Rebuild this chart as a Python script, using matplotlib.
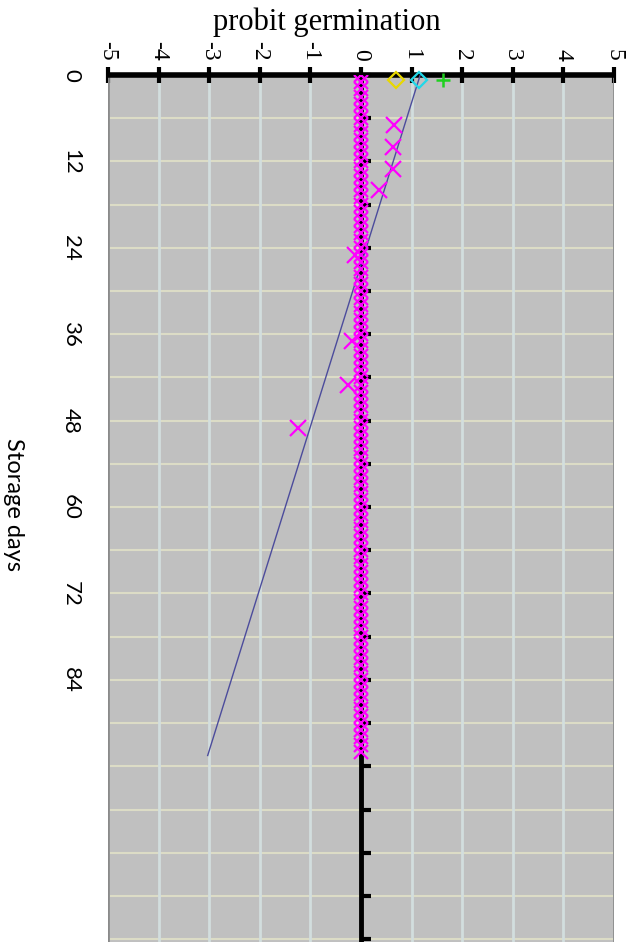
import matplotlib
matplotlib.use("Agg")
import matplotlib.pyplot as plt

# storage days (daily readings) that sit on probit 0
zero_days = list(range(0, 95))
zero_probit = [0.0] * len(zero_days)

# days with a non-zero probit germination
pos_days = [7, 10, 13, 16, 25, 37, 43, 49]
pos_probit = [0.65, 0.63, 0.64, 0.36, -0.12, -0.18, -0.25, -1.25]

# day-0 readings of the other series
yellow_probit = [0.69]
cyan_probit = [1.15]
green_probit = [1.63]
start_day = [0.7]

# fitted trend line (end points)
trend_days = [0, 94.5]
trend_probit = [1.17, -3.03]

probit_ticks = [-5, -4, -3, -2, -1, 0, 1, 2, 3, 4, 5]
day_labels = [0, 12, 24, 36, 48, 60, 72, 84]
day_minor = [0, 6, 12, 18, 24, 30, 36, 42, 48, 54, 60, 66, 72, 78, 84, 90, 96, 102, 108, 114, 120]

fig = plt.figure(figsize=(6.35, 9.42), dpi=100)
ax = fig.add_axes([108 / 635, 0, 506 / 635, 867 / 942])
ax.set_facecolor("#c0c0c0")
ax.set_xlim(-5, 5)
ax.set_ylim(120.4, 0)

# grid
for d in day_minor[1:]:
    ax.axhline(d, color="#dcdcc6", lw=1.5, zorder=1)
for p in probit_ticks:
    ax.axvline(p, color="#d2dede", lw=2, zorder=1)
ax.axvline(-5, color="#8a8a8a", lw=2, zorder=2)
ax.axvline(5, color="#8a8a8a", lw=2, zorder=2)

# top axis (probit)
ax.xaxis.tick_top()
ax.set_xticks(probit_ticks)
ax.set_xticklabels([str(t) for t in probit_ticks], family="Liberation Serif", fontsize=17)
ax.tick_params(axis="x", direction="inout", length=12, width=3, pad=4, labelrotation=-90)
ax.spines["top"].set_linewidth(4)
ax.spines["top"].set_capstyle("butt")
ax.spines["bottom"].set_visible(False)
ax.spines["right"].set_visible(False)

# zero line carries the day ticks
ax.spines["left"].set_position(("data", 0))
ax.spines["left"].set_linewidth(3.5)
ax.spines["left"].set_zorder(2.5)
ax.set_yticks(day_minor)
ax.set_yticklabels([])
ax.tick_params(axis="y", direction="in", length=7, width=3)

sec = ax.secondary_yaxis(-0.073)
sec.set_yticks(day_labels)
sec.set_yticklabels([str(d) for d in day_labels], family="Lato", fontsize=16,
                    rotation=-90, va="center", ha="center")
sec.tick_params(length=0, pad=0)
sec.spines["left"].set_visible(False)

# data
ax.plot(trend_probit, trend_days, color="#4c4c9c", lw=1, zorder=3)
ax.plot(zero_probit, zero_days, "x", color="#ff00ff", ms=10, mew=1.6, zorder=4)
ax.plot(pos_probit, pos_days, "x", color="#ff00ff", ms=11, mew=1.6, zorder=4)
ax.plot(yellow_probit, start_day, "D", mfc="none", mec="#e8d800", ms=8, mew=1.6, zorder=5, clip_on=False)
ax.plot(cyan_probit, start_day, "D", mfc="none", mec="#20d8e8", ms=8, mew=1.6, zorder=5, clip_on=False)
ax.plot(green_probit, start_day, "+", color="#20d020", ms=10, mew=1.8, zorder=5, clip_on=False)

fig.text(327 / 635, 1 - 22 / 942, "probit germination", family="Liberation Serif",
         fontsize=22, ha="center", va="center")
fig.text(13 / 635, 1 - 505 / 942, "Storage days", family="Lato", fontsize=17,
         rotation=-90, ha="center", va="center")

fig.savefig("out.png", dpi=100)
